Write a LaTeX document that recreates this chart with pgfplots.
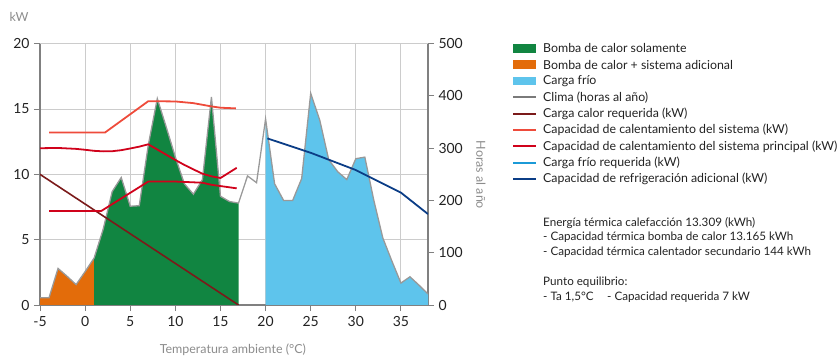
\documentclass[border=0pt]{standalone}
\usepackage{pgfplots}
\pgfplotsset{compat=1.18}
\usepackage{pgfplotstable}
\usepackage{fontspec}
\setmainfont{Lato}
\setsansfont{Lato}

\definecolor{hpgreen}{HTML}{118541}
\definecolor{hporange}{HTML}{E36C0A}
\definecolor{coolblue}{HTML}{5EC4EC}
\definecolor{climgray}{HTML}{999999}
\definecolor{legendgray}{HTML}{7A7A7A}
\definecolor{reqred}{HTML}{7B1A1A}
\definecolor{sysred}{HTML}{EE4B3B}
\definecolor{mainred}{HTML}{D0021B}
\definecolor{coolreq}{HTML}{1B9AD7}
\definecolor{addblue}{HTML}{0B3D86}
\definecolor{gridgray}{HTML}{CCCCCC}
\definecolor{axisgray}{HTML}{808080}
\definecolor{labelgray}{HTML}{8C8C8C}
\definecolor{textdark}{HTML}{222222}

% Clima (horas al año)
\pgfplotstableread{
T h
-5 14
-4 14
-3 70
-2 55
-1 39
0 64
1 90
2 145
3 217
4 244
5 189
6 190
7 306
8 395
9 340
10 283
11 232
12 212
13 240
14 398
15 208
16 198
17 195
18 247
19 234
20 356
21 232
22 200
23 200
24 242
25 405
26 354
27 278
28 255
29 240
30 280
31 283
32 200
33 128
34 84
35 42
36 54
37 38
38 21
}\climate

\pgfplotstableread{
T kW
-5 10
17 0
}\reqheat

\pgfplotstableread{
T kW
-4 13.2
2.2 13.2
7 15.6
10 15.58
12 15.45
14 15.2
15 15.1
16.7 15.05
}\syscap

\pgfplotstableread{
T kW
-5 12.0
-3 12.02
-1 11.95
0 11.88
1 11.8
2 11.76
3 11.77
4 11.85
5 11.98
6 12.12
7 12.3
8 11.9
9 11.5
10 11.1
11 10.72
12 10.38
13 10.05
14 9.85
15 9.72
16.8 10.5
}\maincapA

\pgfplotstableread{
T kW
-4 7.2
1.8 7.2
7 9.45
10 9.45
13 9.36
14 9.2
16.8 8.93
}\maincapB

\pgfplotstableread{
T kW
20.2 12.75
25 11.65
30 10.33
35 8.6
38 6.96
}\coolcap

\begin{document}
\begin{tikzpicture}
\path[use as bounding box] (0,0) rectangle (840bp,357bp);

\pgfplotsset{
  base/.style={
    at={(40bp,52bp)}, anchor=south west, scale only axis,
    width=388bp, height=261.3bp,
    xmin=-5, xmax=38,
    /pgf/number format/assume math mode=true,
    tick align=outside,
    major tick length=6bp,
    tick style={axisgray, line width=1pt},
    ticklabel style={font=\fontsize{14}{14}\selectfont, text=textdark},
    axis line style={axisgray, line width=1.2pt, -},
  }
}

% Axis 1: kW grid and left/bottom axes
\begin{axis}[base,
  ymin=0, ymax=20, clip=false,
  xtick={-5,0,...,35}, ytick={0,5,...,20},
  grid=major, grid style={gridgray, line width=1pt},
  axis x line*=bottom, axis y line*=left,
  xticklabel style={yshift=-2bp},
  yticklabel style={xshift=-1bp},
]
\node[font=\fontsize{12.5}{12.5}\selectfont, text=labelgray] at (axis description cs:-0.054,1.102) {kW};
\node[font=\fontsize{12.5}{12.5}\selectfont, text=labelgray] at (axis description cs:0.497,-0.172) {Temperatura ambiente (°C)};
\end{axis}

% Axis 2: hours (climate)
\begin{axis}[base,
  ymin=0, ymax=500,
  axis x line=none, axis y line*=right,
  ytick={0,100,...,500},
  yticklabel style={xshift=1bp},
  ylabel={Horas al año},
  ylabel style={at={(axis description cs:1.1366,0.4975)}, anchor=center, rotate=180,
    font=\fontsize{12.5}{12.5}\selectfont, text=labelgray},
]
\addplot[fill=hporange, draw=none, restrict x to domain=-5:1] table[x=T, y=h] {\climate} \closedcycle;
\addplot[fill=hpgreen, draw=none, restrict x to domain=1:17] table[x=T, y=h] {\climate} \closedcycle;
\addplot[fill=coolblue, draw=none, restrict x to domain=20:38] table[x=T, y=h] {\climate} \closedcycle;
\addplot[climgray, line width=1.3pt] table[x=T, y=h] {\climate};
\end{axis}

% Axis 3: kW lines on top
\begin{axis}[base, ymin=0, ymax=20, hide axis]
\addplot[reqred, line width=1.6pt] table[x=T, y=kW] {\reqheat};
\addplot[sysred, line width=1.8pt] table[x=T, y=kW] {\syscap};
\addplot[mainred, line width=1.8pt] table[x=T, y=kW] {\maincapA};
\addplot[mainred, line width=1.8pt] table[x=T, y=kW] {\maincapB};
\addplot[addblue, line width=1.8pt] table[x=T, y=kW] {\coolcap};
\end{axis}

% Legend
\begin{scope}[every node/.style={anchor=west, inner sep=0pt, font=\fontsize{12.4}{12.4}\selectfont, text=textdark}]
\fill[hpgreen] (513bp,{(357-48.3-4.3)*1bp}) rectangle (536bp,{(357-48.3+4.3)*1bp});
\node at (543bp,{(357-48.3)*1bp}) {Bomba de calor solamente};
\fill[hporange] (513bp,{(357-64.65-4.3)*1bp}) rectangle (536bp,{(357-64.65+4.3)*1bp});
\node at (543bp,{(357-64.65)*1bp}) {Bomba de calor + sistema adicional};
\fill[coolblue] (513bp,{(357-81-4.3)*1bp}) rectangle (536bp,{(357-81+4.3)*1bp});
\node at (543bp,{(357-81)*1bp}) {Carga frío};
\draw[legendgray, line width=2.2pt] (513bp,{(357-97.35)*1bp}) -- (536bp,{(357-97.35)*1bp});
\node at (543bp,{(357-97.35)*1bp}) {Clima (horas al año)};
\draw[reqred, line width=2.2pt] (513bp,{(357-113.7)*1bp}) -- (536bp,{(357-113.7)*1bp});
\node at (543bp,{(357-113.7)*1bp}) {Carga calor requerida (kW)};
\draw[sysred, line width=2.2pt] (513bp,{(357-130.05)*1bp}) -- (536bp,{(357-130.05)*1bp});
\node at (543bp,{(357-130.05)*1bp}) {Capacidad de calentamiento del sistema (kW)};
\draw[mainred, line width=2.2pt] (513bp,{(357-146.4)*1bp}) -- (536bp,{(357-146.4)*1bp});
\node at (543bp,{(357-146.4)*1bp}) {Capacidad de calentamiento del sistema principal (kW)};
\draw[coolreq, line width=2.2pt] (513bp,{(357-162.75)*1bp}) -- (536bp,{(357-162.75)*1bp});
\node at (543bp,{(357-162.75)*1bp}) {Carga frío requerida (kW)};
\draw[addblue, line width=2.2pt] (513bp,{(357-179.1)*1bp}) -- (536bp,{(357-179.1)*1bp});
\node at (543bp,{(357-179.1)*1bp}) {Capacidad de refrigeración adicional (kW)};

\node[font=\fontsize{11.7}{11.7}\selectfont] at (543bp,{(357-223.3)*1bp}) {Energía térmica calefacción 13.309 (kWh)};
\node[font=\fontsize{11.7}{11.7}\selectfont] at (543bp,{(357-237.7)*1bp}) {- Capacidad térmica bomba de calor 13.165 kWh};
\node[font=\fontsize{11.7}{11.7}\selectfont] at (543bp,{(357-252.3)*1bp}) {- Capacidad térmica calentador secundario 144 kWh};
\node[font=\fontsize{11.7}{11.7}\selectfont] at (543bp,{(357-282.7)*1bp}) {Punto equilibrio:};
\node[font=\fontsize{11.7}{11.7}\selectfont] at (543bp,{(357-297.3)*1bp}) {- Ta 1,5°C};
\node[font=\fontsize{11.7}{11.7}\selectfont] at (607bp,{(357-297.3)*1bp}) {- Capacidad requerida 7 kW};
\end{scope}
\end{tikzpicture}
\end{document}
